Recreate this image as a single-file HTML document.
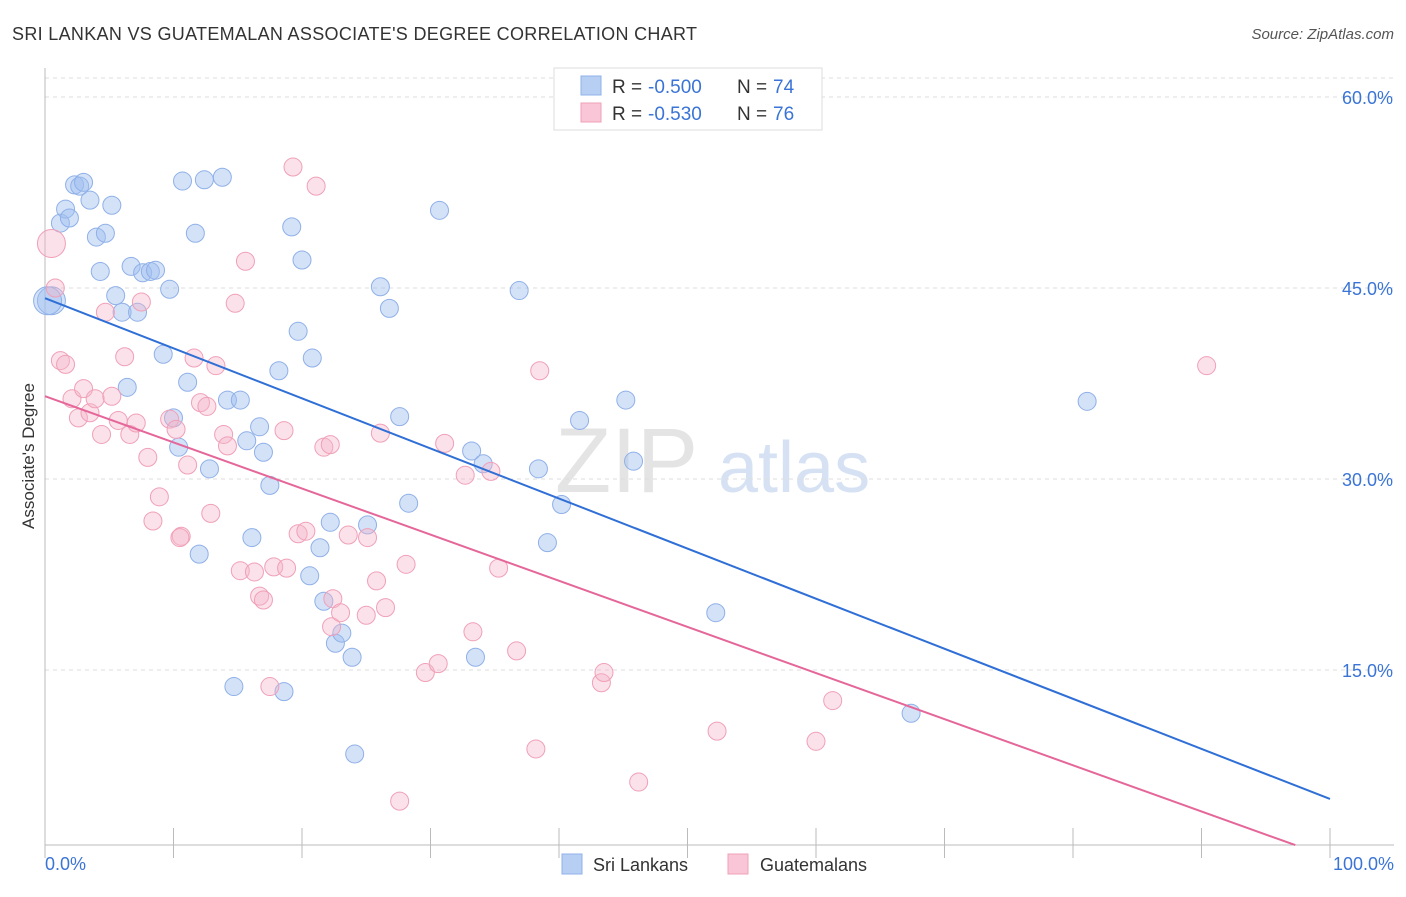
<!DOCTYPE html>
<html><head><meta charset="utf-8"><style>
body{margin:0;background:#fff;font-family:"Liberation Sans",sans-serif}
svg text{font-family:"Liberation Sans",sans-serif}
</style></head><body>
<svg id="chart" width="1406" height="892" xmlns="http://www.w3.org/2000/svg">
<text x="12" y="40" font-size="18" fill="#333" textLength="685">SRI LANKAN VS GUATEMALAN ASSOCIATE'S DEGREE CORRELATION CHART</text>
<text x="1394" y="39" font-size="15" fill="#555" text-anchor="end" font-style="italic">Source: ZipAtlas.com</text>
<text transform="translate(34,456) rotate(-90)" font-size="17" fill="#333" text-anchor="middle">Associate's Degree</text>
<text x="555" y="492" font-size="92" fill="#e4e4e4" font-family="Liberation Serif">ZIP</text>
<text x="718" y="492" font-size="72" fill="#d6e2f4">atlas</text>
<g id="grid"></g><g id="axes"></g><g id="pts"></g><g id="lines"></g>
<g>
<rect x="554" y="68" width="268" height="62" fill="#fff" stroke="#ddd"/>
<rect x="581" y="76" width="20" height="19" fill="#b8cff4" stroke="#8fb0e8"/>
<rect x="581" y="103" width="20" height="19" fill="#f8c6d6" stroke="#f0a0b8"/>
<text x="612" y="93" font-size="19" fill="#333">R =</text><text x="648" y="93" font-size="19" fill="#3a74d6">-0.500</text>
<text x="737" y="93" font-size="19" fill="#333">N =</text><text x="773" y="93" font-size="19" fill="#3a74d6">74</text>
<text x="612" y="120" font-size="19" fill="#333">R =</text><text x="648" y="120" font-size="19" fill="#3a74d6">-0.530</text>
<text x="737" y="120" font-size="19" fill="#333">N =</text><text x="773" y="120" font-size="19" fill="#3a74d6">76</text>
</g>
<g>
<rect x="562" y="854" width="20" height="20" fill="#b8cff4" stroke="#8fb0e8"/>
<text x="593" y="871" font-size="18" fill="#333">Sri Lankans</text>
<rect x="728" y="854" width="20" height="20" fill="#f8c6d6" stroke="#f0a0b8"/>
<text x="760" y="871" font-size="18" fill="#333">Guatemalans</text>
</g>
</svg>
<script>
const yTicks=[15,30,45,60];
const yTickLabels=["15.0%","30.0%","45.0%","60.0%"];
const xTickLabels=["0.0%","100.0%"];
const blueX=[0.5,1.2,1.6,1.9,2.3,2.7,3.0,3.5,4.0,4.3,4.7,5.2,5.5,6.0,6.4,6.7,7.2,7.6,8.2,8.6,9.2,9.7,10.0,10.4,10.7,11.1,11.7,12.0,12.4,12.8,13.8,14.2,14.7,15.2,15.7,16.1,16.7,17.0,17.5,18.2,18.6,19.2,19.7,20.0,20.8,21.4,20.6,21.7,22.2,22.6,23.1,23.9,24.1,25.1,26.1,26.8,27.6,28.3,30.7,33.2,34.1,33.5,36.9,38.4,39.1,40.2,41.6,45.2,45.8,52.2,67.4,81.1,0.2];
const blueY=[44.0,50.1,51.2,50.5,53.1,53.0,53.3,51.9,49.0,46.3,49.3,51.5,44.4,43.1,37.2,46.7,43.1,46.2,46.3,46.4,39.8,44.9,34.8,32.5,53.4,37.6,49.3,24.1,53.5,30.8,53.7,36.2,13.7,36.2,33.0,25.4,34.1,32.1,29.5,38.5,13.3,49.8,41.6,47.2,39.5,24.6,22.4,20.4,26.6,17.1,17.9,16.0,8.4,26.4,45.1,43.4,34.9,28.1,51.1,32.2,31.2,16.0,44.8,30.8,25.0,28.0,34.6,36.2,31.4,19.5,11.6,36.1,44.0];
const blueR=[14,9,9,9,9,9,9,9,9,9,9,9,9,9,9,9,9,9,9,9,9,9,9,9,9,9,9,9,9,9,9,9,9,9,9,9,9,9,9,9,9,9,9,9,9,9,9,9,9,9,9,9,9,9,9,9,9,9,9,9,9,9,9,9,9,9,9,9,9,9,9,9,14];
const pinkX=[0.5,0.8,1.2,1.6,2.1,2.6,3.0,3.5,3.9,4.4,4.7,5.2,5.7,6.2,6.6,7.1,7.5,8.0,8.4,8.9,9.7,10.2,10.6,11.1,11.6,12.1,12.6,12.9,13.3,13.9,14.2,14.8,15.2,15.6,16.3,16.7,17.0,17.5,17.8,18.6,18.8,19.3,19.7,20.3,21.1,21.7,22.2,22.4,22.3,23.0,23.6,25.1,25.0,25.8,26.1,26.5,27.6,28.1,29.6,30.6,31.1,32.7,33.3,34.7,35.3,36.7,38.2,38.5,43.3,43.5,46.2,52.3,60.0,61.3,90.4,10.5];
const pinkY=[48.5,45.0,39.3,39.0,36.3,34.8,37.1,35.2,36.3,33.5,43.1,36.5,34.6,39.6,33.5,34.4,43.9,31.7,26.7,28.6,34.7,33.9,25.5,31.1,39.5,36.0,35.7,27.3,38.9,33.5,32.6,43.8,22.8,47.1,22.7,20.8,20.5,13.7,23.1,33.8,23.0,54.5,25.7,25.9,53.0,32.5,32.7,20.6,18.4,19.5,25.6,25.4,19.3,22.0,33.6,19.9,4.7,23.3,14.8,15.5,32.8,30.3,18.0,30.6,23.0,16.5,8.8,38.5,14.0,14.8,6.2,10.2,9.4,12.6,38.9,25.4];
const blueLine=[44.2,4.87];
const pinkLine=[36.5,0.27];
const X=v=>45+v*12.85, Y=v=>861-v*12.733;
const ns="http://www.w3.org/2000/svg";
function mk(tag,attrs,parent){const e=document.createElementNS(ns,tag);for(const k in attrs)e.setAttribute(k,attrs[k]);document.getElementById(parent).appendChild(e);return e;}
let g=mk('line',{x1:45,x2:1394,y1:78,y2:78,stroke:'#ddd','stroke-dasharray':'4,4'},'grid');


yTicks.forEach((t,i)=>{
 const l=mk('line',{x1:45,x2:1394,y1:Y(t),y2:Y(t),stroke:'#ddd','stroke-dasharray':'4,4'},'grid');
 
 
 const tx=mk('text',{x:1393,y:Y(t)+7,'font-size':18,fill:'#3a74d6','text-anchor':'end'},'grid');tx.textContent=yTickLabels[i];
 
 
});
let a=mk('line',{x1:45,x2:45,y1:68,y2:845,stroke:'#bbb'},'axes');


a=mk('line',{x1:45,x2:1394,y1:845,y2:845,stroke:'#bbb'},'axes');


for(let i=0;i<=10;i++){const t=mk('line',{x1:X(i*10),x2:X(i*10),y1:828,y2:858,stroke:'#bbb'},'axes');
 
 }
[[0,'start',45],[100,'end',1394]].forEach((d,i)=>{const t=mk('text',{x:d[2],y:870,'font-size':18,fill:'#3a74d6','text-anchor':d[1]},'axes');t.textContent=xTickLabels[i];
 
 });
blueX.forEach((v,i)=>{const c=mk('circle',{cx:X(v),cy:Y(blueY[i]),r:blueR[i],fill:'rgba(160,190,240,0.45)',stroke:'#8fb0e8','stroke-width':1},'pts');
 
 });
pinkX.forEach((v,i)=>{const c=mk('circle',{cx:X(v),cy:Y(pinkY[i]),r:i==0?14:9,fill:'rgba(245,180,200,0.4)',stroke:'#f0a0b8','stroke-width':1},'pts');
 
 });
let ln=mk('line',{x1:X(0),y1:Y(blueLine[0]),x2:X(100),y2:Y(blueLine[1]),stroke:'#2f6fd6','stroke-width':2},'lines');


ln=mk('line',{x1:X(0),y1:Y(pinkLine[0]),x2:X(97.3),y2:Y(pinkLine[0]+(pinkLine[1]-pinkLine[0])*0.973),stroke:'#e5679a','stroke-width':2},'lines');


</script>
</body></html>
